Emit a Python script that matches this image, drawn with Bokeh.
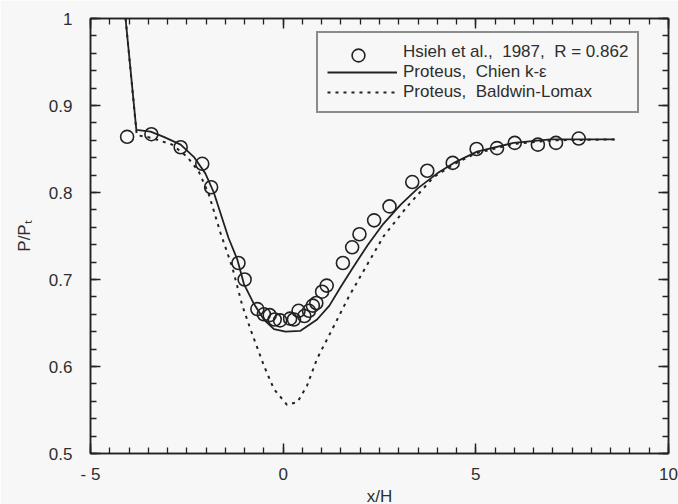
from bokeh.plotting import figure
from bokeh.models import Legend, LegendItem, LinearAxis, FixedTicker, Range1d
from bokeh.embed import file_html
from bokeh.resources import INLINE

# Experimental data: Hsieh et al., 1987, R = 0.862
exp_x = [-4.05, -3.42, -2.66, -2.10, -1.87, -1.16, -1.00, -0.67, -0.50, -0.35,
         -0.22, -0.08, 0.18, 0.28, 0.40, 0.55, 0.67, 0.77, 0.86, 1.01,
         1.13, 1.55, 1.79, 1.98, 2.36, 2.76, 3.35, 3.74, 4.40, 5.02,
         5.55, 6.01, 6.61, 7.08, 7.67]
exp_y = [0.864, 0.867, 0.852, 0.833, 0.806, 0.719, 0.700, 0.666, 0.660, 0.659,
         0.654, 0.653, 0.655, 0.654, 0.664, 0.658, 0.664, 0.670, 0.673, 0.686,
         0.693, 0.719, 0.737, 0.752, 0.768, 0.784, 0.812, 0.825, 0.834, 0.850,
         0.851, 0.857, 0.855, 0.857, 0.862]

# Proteus, Chien k-epsilon
chien_x = [-4.09, -3.81, -3.44, -3.10, -2.66, -2.32, -2.02, -1.80, -1.42, -1.19,
           -1.02, -0.76, -0.50, -0.24, 0.06, 0.45, 0.88, 1.20, 1.50, 1.80,
           2.20, 2.60, 3.05, 3.50, 4.00, 4.43, 5.03, 5.98, 6.94, 8.60]
chien_y = [1.000, 0.872, 0.870, 0.864, 0.855, 0.841, 0.822, 0.800, 0.748, 0.723,
           0.695, 0.672, 0.654, 0.643, 0.640, 0.641, 0.654, 0.670, 0.692, 0.713,
           0.740, 0.764, 0.786, 0.805, 0.822, 0.834, 0.847, 0.857, 0.861, 0.861]

# Proteus, Baldwin-Lomax
bl_x = [-4.09, -3.80, -3.44, -2.88, -2.49, -2.19, -1.93, -1.63, -1.32, -1.06,
        -0.85, -0.50, -0.24, 0.10, 0.37, 0.62, 0.88, 1.23, 1.70, 2.01,
        2.61, 3.22, 3.91, 4.50, 5.00, 6.00, 7.00, 8.60]
bl_y = [1.000, 0.866, 0.863, 0.855, 0.841, 0.824, 0.798, 0.754, 0.714, 0.670,
        0.643, 0.601, 0.574, 0.556, 0.559, 0.578, 0.609, 0.639, 0.680, 0.704,
        0.750, 0.784, 0.818, 0.834, 0.845, 0.856, 0.860, 0.861]

x_major = [-5, 0, 5, 10]
x_minor = [-5 + 0.5 * i for i in range(31)]
y_major = [0.5, 0.6, 0.7, 0.8, 0.9, 1.0]
y_minor = [0.5 + 0.02 * i for i in range(26)]
x_tick_labels = {-5: "- 5", 0: "0", 5: "5", 10: "10"}
y_tick_labels = {0.5: "0.5", 0.6: "0.6", 0.7: "0.7", 0.8: "0.8", 0.9: "0.9", 1.0: "1"}

INK = "#222222"
TXT = "#2e2e2e"
BG = "#f7f7f7"
FONT = "Liberation Sans"

p = figure(frame_width=578, frame_height=435,
           x_range=Range1d(-5, 10), y_range=Range1d(0.5, 1.0),
           output_backend="svg", toolbar_location=None,
           min_border_left=90, min_border_right=10,
           min_border_top=18, min_border_bottom=5,
           background_fill_color=BG, border_fill_color=BG)
p.grid.visible = False
p.outline_line_color = INK
p.outline_line_width = 1.5


def style_axis(ax, major, minor, labels, show):
    ax.ticker = FixedTicker(ticks=major, minor_ticks=minor)
    ax.major_tick_in = 10
    ax.major_tick_out = 0
    ax.minor_tick_in = 6
    ax.minor_tick_out = 0
    ax.axis_line_color = INK
    ax.axis_line_width = 1.5
    ax.major_tick_line_color = INK
    ax.major_tick_line_width = 1.5
    ax.minor_tick_line_color = INK
    ax.minor_tick_line_width = 1.3
    if show:
        ax.major_label_overrides = labels
        ax.major_label_text_font = FONT
        ax.major_label_text_font_size = "17px"
        ax.major_label_text_color = TXT
        ax.axis_label_text_font = FONT
        ax.axis_label_text_font_size = "17px"
        ax.axis_label_text_font_style = "normal"
        ax.axis_label_text_color = TXT
    else:
        # mirrored tick marks only: no tick labels on top/right
        ax.major_label_overrides = {t: "" for t in major}
        ax.major_label_text_font_size = "1px"
        ax.major_label_standoff = 0


xb = p.xaxis[0]
style_axis(xb, x_major, x_minor, x_tick_labels, True)
xb.axis_label = "x/H"
xb.major_label_standoff = 11
xb.axis_label_standoff = 0

yl = p.yaxis[0]
style_axis(yl, y_major, y_minor, y_tick_labels, True)
yl.axis_label = "P/P\u209c"
yl.major_label_standoff = 18
yl.axis_label_standoff = 12

xt = LinearAxis()
style_axis(xt, x_major, x_minor, None, False)
p.add_layout(xt, "above")
yr = LinearAxis()
style_axis(yr, y_major, y_minor, None, False)
p.add_layout(yr, "right")

r_exp = p.scatter(exp_x, exp_y, marker="circle", size=13, fill_color=None,
                  line_color=INK, line_width=1.6)
r_chien = p.line(chien_x, chien_y, line_color=INK, line_width=1.8)
r_bl = p.line(bl_x, bl_y, line_color=INK, line_width=2.0, line_dash="3 5")
# placeholder so the boxed legend keeps even rows; the marker itself is drawn
# at full size by the second (borderless) legend below
r_slot = p.scatter([], [], marker="circle", fill_alpha=0, line_alpha=0)

legend = Legend(items=[
    LegendItem(label="Hsieh et al.,  1987,  R = 0.862", renderers=[r_slot]),
    LegendItem(label="Proteus,  Chien k-\u03b5", renderers=[r_chien]),
    LegendItem(label="Proteus,  Baldwin-Lomax", renderers=[r_bl]),
], location=(226, 340))
legend.border_line_color = INK
legend.border_line_width = 2
legend.background_fill_color = BG
legend.background_fill_alpha = 1.0
legend.label_text_font = FONT
legend.label_text_font_size = "17px"
legend.label_text_color = TXT
legend.glyph_width = 70
legend.glyph_height = 20
legend.label_height = 20
legend.label_standoff = 6
legend.padding = 9
legend.spacing = 0
legend.margin = 0
p.add_layout(legend)

marker_legend = Legend(items=[LegendItem(label=" ", renderers=[r_exp])],
                       location=(252, 382))
marker_legend.border_line_alpha = 0
marker_legend.background_fill_alpha = 0
marker_legend.glyph_width = 32
marker_legend.glyph_height = 32
marker_legend.label_height = 32
marker_legend.label_standoff = 0
marker_legend.label_text_font_size = "1px"
marker_legend.padding = 0
marker_legend.spacing = 0
marker_legend.margin = 0
p.add_layout(marker_legend)

open("out.html", "w").write(file_html(p, INLINE))
